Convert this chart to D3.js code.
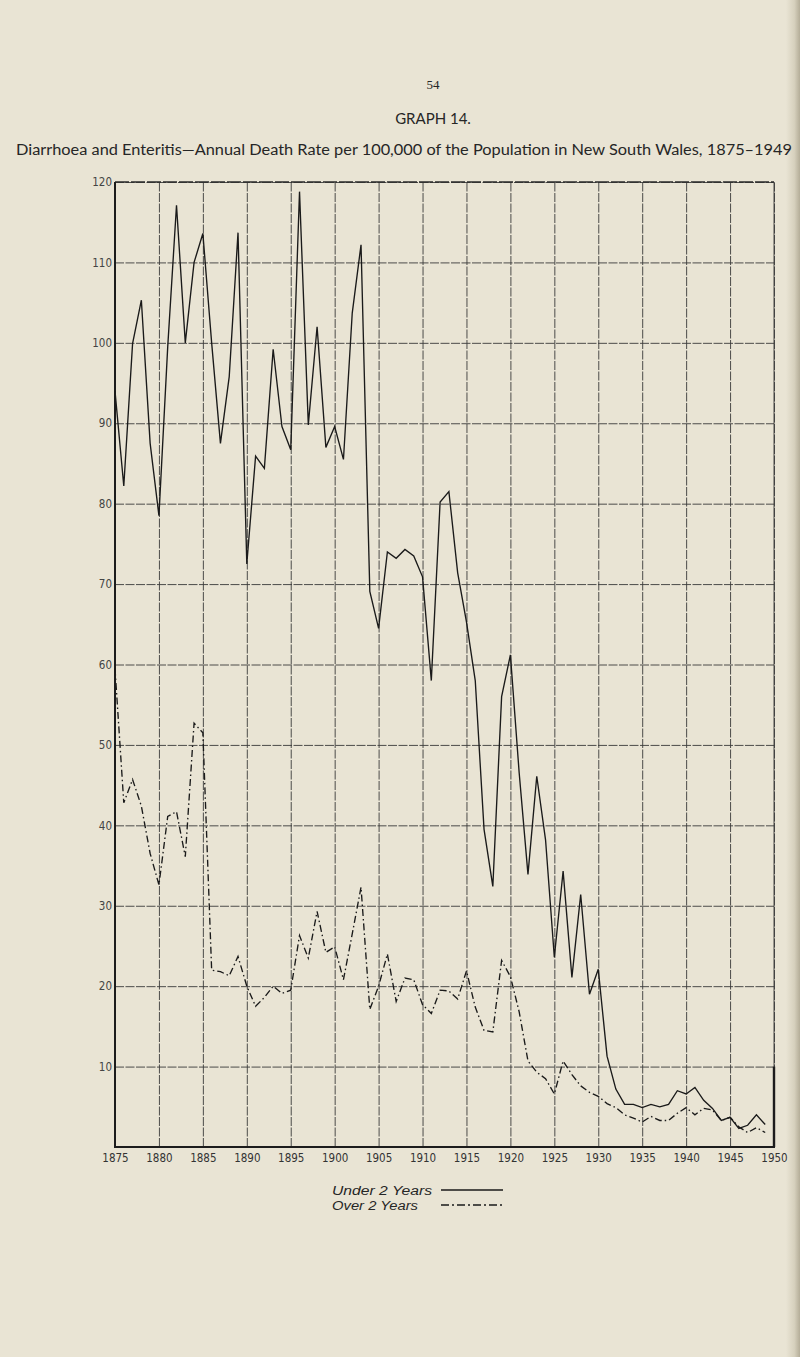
<!DOCTYPE html>
<html>
<head>
<meta charset="utf-8">
<script src="https://cdn.jsdelivr.net/npm/d3@7"></script>
<style>
  html, body { margin: 0; padding: 0; background: #e9e4d4; }
  svg { display: block; }
</style>
</head>
<body>
<svg id="chart" width="800" height="1357"></svg>
<script>
// ---------------- DATA ----------------
const years = [1875,1876,1877,1878,1879,1880,1881,1882,1883,1884,1885,1886,1887,1888,1889,
  1890,1891,1892,1893,1894,1895,1896,1897,1898,1899,1900,1901,1902,1903,1904,
  1905,1906,1907,1908,1909,1910,1911,1912,1913,1914,1915,1916,1917,1918,1919,
  1920,1921,1922,1923,1924,1925,1926,1927,1928,1929,1930,1931,1932,1933,1934,
  1935,1936,1937,1938,1939,1940,1941,1942,1943,1944,1945,1946,1947,1948,1949];

const under2 = [94.0,82.2,99.9,105.3,87.5,78.5,99.5,117.1,100.0,110.0,113.6,100.0,87.5,95.8,113.7,
  72.5,85.9,84.4,99.2,89.6,86.7,118.8,89.8,102.0,87.0,89.6,85.5,103.7,112.2,69.1,
  64.5,74.0,73.2,74.3,73.5,70.9,58.0,80.2,81.5,71.4,65.3,58.0,39.5,32.4,56.0,
  61.2,46.5,33.9,46.1,38.2,23.6,34.3,21.1,31.4,19.0,22.1,11.3,7.2,5.3,5.3,
  4.9,5.3,5.0,5.3,7.0,6.6,7.4,5.8,4.8,3.3,3.7,2.3,2.7,4.0,2.8];

const over2 = [59.5,42.8,45.7,42.4,36.5,32.6,41.1,41.7,36.1,52.7,51.5,22.0,21.8,21.3,23.7,
  20.0,17.5,18.6,20.0,19.1,19.5,26.3,23.5,29.3,24.2,24.9,20.8,26.5,32.3,17.1,
  20.0,24.0,18.1,21.0,20.8,17.7,16.6,19.5,19.4,18.4,21.9,17.4,14.5,14.3,23.2,
  21.2,16.8,10.7,9.3,8.5,6.6,10.7,9.0,7.6,6.8,6.3,5.4,4.9,4.0,3.6,
  3.1,3.8,3.3,3.3,4.2,4.9,4.0,4.8,4.6,3.3,3.7,2.5,1.8,2.4,1.8];

const xTickLabels = ["1875","1880","1885","1890","1895","1900","1905","1910","1915","1920","1925","1930","1935","1940","1945","1950"];
const yTickLabels = ["10","20","30","40","50","60","70","80","90","100","110","120"];

const pageNumber = "54";
const graphLabel = "GRAPH 14.";
const titleText = "Diarrhoea and Enteritis\u2014Annual Death Rate per 100,000 of the Population in New South Wales, 1875\u20131949";
const legendLabels = ["Under 2 Years", "Over 2 Years"];

// ---------------- DRAW ----------------
(function () {
const svg = d3.select("#chart");
const pL = 115, pR = 774, pT = 182, pB = 1147;
const ink = "#262626";

const x = d3.scaleLinear().domain([1875, 1950]).range([pL, pR]);
const y = d3.scaleLinear().domain([0, 120]).range([pB, pT]);

// page background with darker right page edge
const defs = svg.append("defs");
const grad = defs.append("linearGradient").attr("id", "edge").attr("x1", "0").attr("x2", "1");
grad.append("stop").attr("offset", "0").attr("stop-color", "#e9e4d4");
grad.append("stop").attr("offset", "0.6").attr("stop-color", "#d6d0bd");
grad.append("stop").attr("offset", "1").attr("stop-color", "#b4ad98");
svg.append("rect").attr("width", 800).attr("height", 1357).attr("fill", "#e9e4d4");
svg.append("rect").attr("x", 786).attr("width", 14).attr("height", 1357).attr("fill", "url(#edge)");

// header
svg.append("text").attr("x", 433).attr("y", 89).attr("text-anchor", "middle")
  .attr("font-family", "'Liberation Serif', 'DejaVu Serif', serif").attr("font-size", 13)
  .attr("fill", ink).text(pageNumber);
svg.append("text").attr("x", 433).attr("y", 124).attr("text-anchor", "middle")
  .attr("font-family", "Lato, 'Open Sans', sans-serif").attr("font-size", 15)
  .attr("fill", ink).text(graphLabel);
svg.append("text").attr("x", 16).attr("y", 155)
  .attr("font-family", "Lato, 'Open Sans', sans-serif").attr("font-size", 14.5)
  .attr("textLength", 776).attr("lengthAdjust", "spacingAndGlyphs")
  .attr("fill", ink).text(titleText);

// grid
const xGrid = d3.axisBottom(x).tickValues(xTickLabels.map(Number)).tickSize(-(pB - pT)).tickFormat("");
const gx = svg.append("g").attr("transform", `translate(0,${pB})`).call(xGrid);
gx.select(".domain").remove();
gx.selectAll("line").attr("stroke", "#3a3a3a").attr("stroke-width", 0.9).attr("stroke-dasharray", "9,1.5");

const yGrid = d3.axisLeft(y).tickValues(yTickLabels.map(Number)).tickSize(-(pR - pL)).tickFormat("");
const gy = svg.append("g").attr("transform", `translate(${pL},0)`).call(yGrid);
gy.select(".domain").remove();
gy.selectAll("line").attr("stroke", "#3a3a3a").attr("stroke-width", 0.9).attr("stroke-dasharray", "9,1.5");

// frame
svg.append("line").attr("x1", pL).attr("x2", pR).attr("y1", pT).attr("y2", pT)
  .attr("stroke", "#2a2a2a").attr("stroke-width", 1.4).attr("stroke-dasharray", "14,2");
svg.append("line").attr("x1", pL).attr("x2", pL).attr("y1", pT).attr("y2", pB)
  .attr("stroke", "#1c1c1c").attr("stroke-width", 2);
svg.append("line").attr("x1", pL - 1).attr("x2", pR + 1).attr("y1", pB).attr("y2", pB)
  .attr("stroke", "#1c1c1c").attr("stroke-width", 2);
svg.append("line").attr("x1", pR).attr("x2", pR).attr("y1", pT).attr("y2", y(10))
  .attr("stroke", "#3a3a3a").attr("stroke-width", 0.9);
svg.append("line").attr("x1", pR).attr("x2", pR).attr("y1", y(10)).attr("y2", pB)
  .attr("stroke", "#1c1c1c").attr("stroke-width", 2.4);

// y labels
const yAxis = d3.axisLeft(y).tickValues(yTickLabels.map(Number)).tickSize(0).tickPadding(3)
  .tickFormat((d, i) => yTickLabels[i]);
const ya = svg.append("g").attr("transform", `translate(${pL},0)`).call(yAxis);
ya.select(".domain").remove();
ya.selectAll("text").attr("font-family", "'DejaVu Sans Condensed', 'Liberation Sans Narrow', sans-serif")
  .attr("font-size", 11.5).attr("fill", "#444");

// x labels
const xAxis = d3.axisBottom(x).tickValues(xTickLabels.map(Number)).tickSize(0).tickPadding(7)
  .tickFormat((d, i) => xTickLabels[i]);
const xa = svg.append("g").attr("transform", `translate(0,${pB})`).call(xAxis);
xa.select(".domain").remove();
xa.selectAll("text").attr("font-family", "'DejaVu Sans Condensed', 'Liberation Sans Narrow', sans-serif")
  .attr("font-size", 11.5).attr("fill", "#333");

// series
const line = d3.line().x((d, i) => x(years[i])).y(d => y(d));
svg.append("path").datum(under2).attr("d", line)
  .attr("fill", "none").attr("stroke", "#1a1a1a").attr("stroke-width", 1.35).attr("stroke-linejoin", "miter");
svg.append("path").datum(over2).attr("d", line)
  .attr("fill", "none").attr("stroke", "#1a1a1a").attr("stroke-width", 1.35)
  .attr("stroke-dasharray", "7,3,1.5,3");

// legend
const lg = svg.append("g");
const legendY = [1190, 1205];
const legendDash = [null, "8,3,2,3"];
const legendW = [100, 86];
legendLabels.forEach((lab, i) => {
  lg.append("text").attr("x", 332).attr("y", legendY[i] + 4.5)
    .attr("font-family", "'Liberation Sans', 'DejaVu Sans', sans-serif").attr("font-style", "italic")
    .attr("font-size", 12.5).attr("textLength", legendW[i]).attr("lengthAdjust", "spacingAndGlyphs")
    .attr("fill", ink).text(lab);
  lg.append("line").attr("x1", 441).attr("x2", 503).attr("y1", legendY[i]).attr("y2", legendY[i])
    .attr("stroke", "#1a1a1a").attr("stroke-width", 1.4)
    .attr("stroke-dasharray", legendDash[i]);
});
})();
</script>
</body>
</html>
